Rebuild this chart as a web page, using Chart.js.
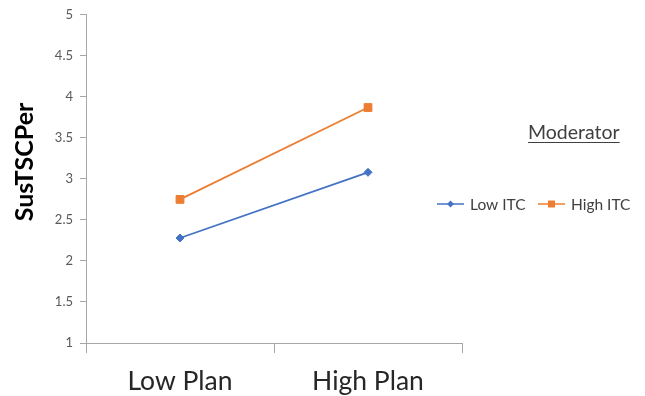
<!DOCTYPE html>
<html>
<head>
<meta charset="utf-8">
<script src="https://cdn.jsdelivr.net/npm/chart.js@4.4.1/dist/chart.umd.min.js"></script>
<style>
  html, body { margin: 0; padding: 0; background: #ffffff; }
  #wrap { width: 645px; height: 396px; }
</style>
</head>
<body>
<div id="wrap"><canvas id="chart" width="645" height="396"></canvas></div>
<script>
// Simple-slopes plot: planning level vs. SusTSCPer at low / high ITC
const categories = ['Low Plan', 'High Plan'];
const lowITC = [2.28, 3.08];
const highITC = [2.75, 3.87];
const seriesNames = ['Low ITC', 'High ITC'];
const legendTitle = 'Moderator';
const yTitle = 'SusTSCPer';
const yMin = 1, yMax = 5, yStep = 0.5;

const BLUE = '#4472C4';
const ORANGE = '#ED7D31';
const AXIS = '#a6a6a6';
const FONT = 'Lato, "Liberation Sans", sans-serif';

// Rotated value-axis title, sitting a little above the plot's vertical middle
const axisTitle = {
  id: 'axisTitle',
  afterDraw(chart) {
    const ctx = chart.ctx;
    ctx.save();
    ctx.translate(33, 162);
    ctx.rotate(-Math.PI / 2);
    ctx.font = 'bold 25px ' + FONT;
    ctx.fillStyle = '#000000';
    ctx.textAlign = 'center';
    ctx.textBaseline = 'alphabetic';
    ctx.fillText(yTitle, 0, 0);
    ctx.restore();
  }
};

// Legend to the right of the plot: underlined title above a single row of entries
const sideLegend = {
  id: 'sideLegend',
  afterDraw(chart) {
    const ctx = chart.ctx;
    ctx.save();
    ctx.fillStyle = '#404040';
    ctx.textBaseline = 'alphabetic';
    ctx.textAlign = 'left';
    ctx.font = '19.5px ' + FONT;
    const tx = 528, ty = 139;
    ctx.fillText(legendTitle, tx, ty);
    const tw = ctx.measureText(legendTitle).width;
    ctx.strokeStyle = '#404040';
    ctx.lineWidth = 1;
    ctx.beginPath();
    ctx.moveTo(tx, ty + 3.5);
    ctx.lineTo(tx + tw, ty + 3.5);
    ctx.stroke();

    const rowY = 204;
    const starts = [437, 538];
    ctx.font = '15.5px ' + FONT;
    ctx.textBaseline = 'middle';
    chart.data.datasets.forEach((ds, i) => {
      const x0 = starts[i];
      const cx = x0 + 13.5;
      ctx.strokeStyle = ds.borderColor;
      ctx.lineWidth = 1.5;
      ctx.beginPath();
      ctx.moveTo(x0, rowY);
      ctx.lineTo(x0 + 27, rowY);
      ctx.stroke();
      ctx.fillStyle = ds.pointBackgroundColor;
      ctx.beginPath();
      if (ds.pointStyle === 'rect') {
        ctx.rect(cx - 3.5, rowY - 3.5, 7, 7);
      } else {
        ctx.moveTo(cx - 3.4, rowY);
        ctx.lineTo(cx, rowY - 3.4);
        ctx.lineTo(cx + 3.4, rowY);
        ctx.lineTo(cx, rowY + 3.4);
        ctx.closePath();
      }
      ctx.fill();
      ctx.fillStyle = '#404040';
      ctx.fillText(ds.label, x0 + 33, rowY + 1);
    });
    ctx.restore();
  }
};

new Chart(document.getElementById('chart'), {
  type: 'line',
  data: {
    labels: categories,
    datasets: [
      {
        label: seriesNames[0],
        data: lowITC,
        borderColor: BLUE,
        backgroundColor: BLUE,
        pointBackgroundColor: BLUE,
        pointBorderColor: BLUE,
        pointStyle: 'rectRot',
        pointRadius: 4,
        pointBorderWidth: 1,
        borderWidth: 1.8,
        tension: 0
      },
      {
        label: seriesNames[1],
        data: highITC,
        borderColor: ORANGE,
        backgroundColor: ORANGE,
        pointBackgroundColor: ORANGE,
        pointBorderColor: ORANGE,
        pointStyle: 'rect',
        pointRadius: 5.5,
        pointBorderWidth: 1,
        borderWidth: 1.8,
        tension: 0
      }
    ]
  },
  options: {
    responsive: false,
    animation: false,
    layout: { padding: { left: 0, top: 14, right: 183, bottom: 0 } },
    plugins: {
      legend: { display: false },
      tooltip: { enabled: false }
    },
    scales: {
      x: {
        type: 'category',
        offset: true,
        afterFit(scale) { scale.height = 53; },
        grid: {
          offset: true,
          drawOnChartArea: false,
          drawTicks: true,
          tickLength: 10,
          color: AXIS,
          lineWidth: 1
        },
        border: { color: AXIS, width: 1 },
        ticks: {
          color: '#262626',
          font: { family: FONT, size: 26.5 },
          padding: 13
        }
      },
      y: {
        min: yMin,
        max: yMax,
        afterFit(scale) { scale.width = 86; },
        grid: {
          drawOnChartArea: false,
          drawTicks: true,
          tickLength: 6,
          color: AXIS,
          lineWidth: 1
        },
        border: { color: AXIS, width: 1 },
        ticks: {
          stepSize: yStep,
          color: '#595959',
          font: { family: FONT, size: 13 },
          padding: 7,
          callback: v => String(v)
        }
      }
    }
  },
  plugins: [axisTitle, sideLegend]
});
</script>
</body>
</html>
